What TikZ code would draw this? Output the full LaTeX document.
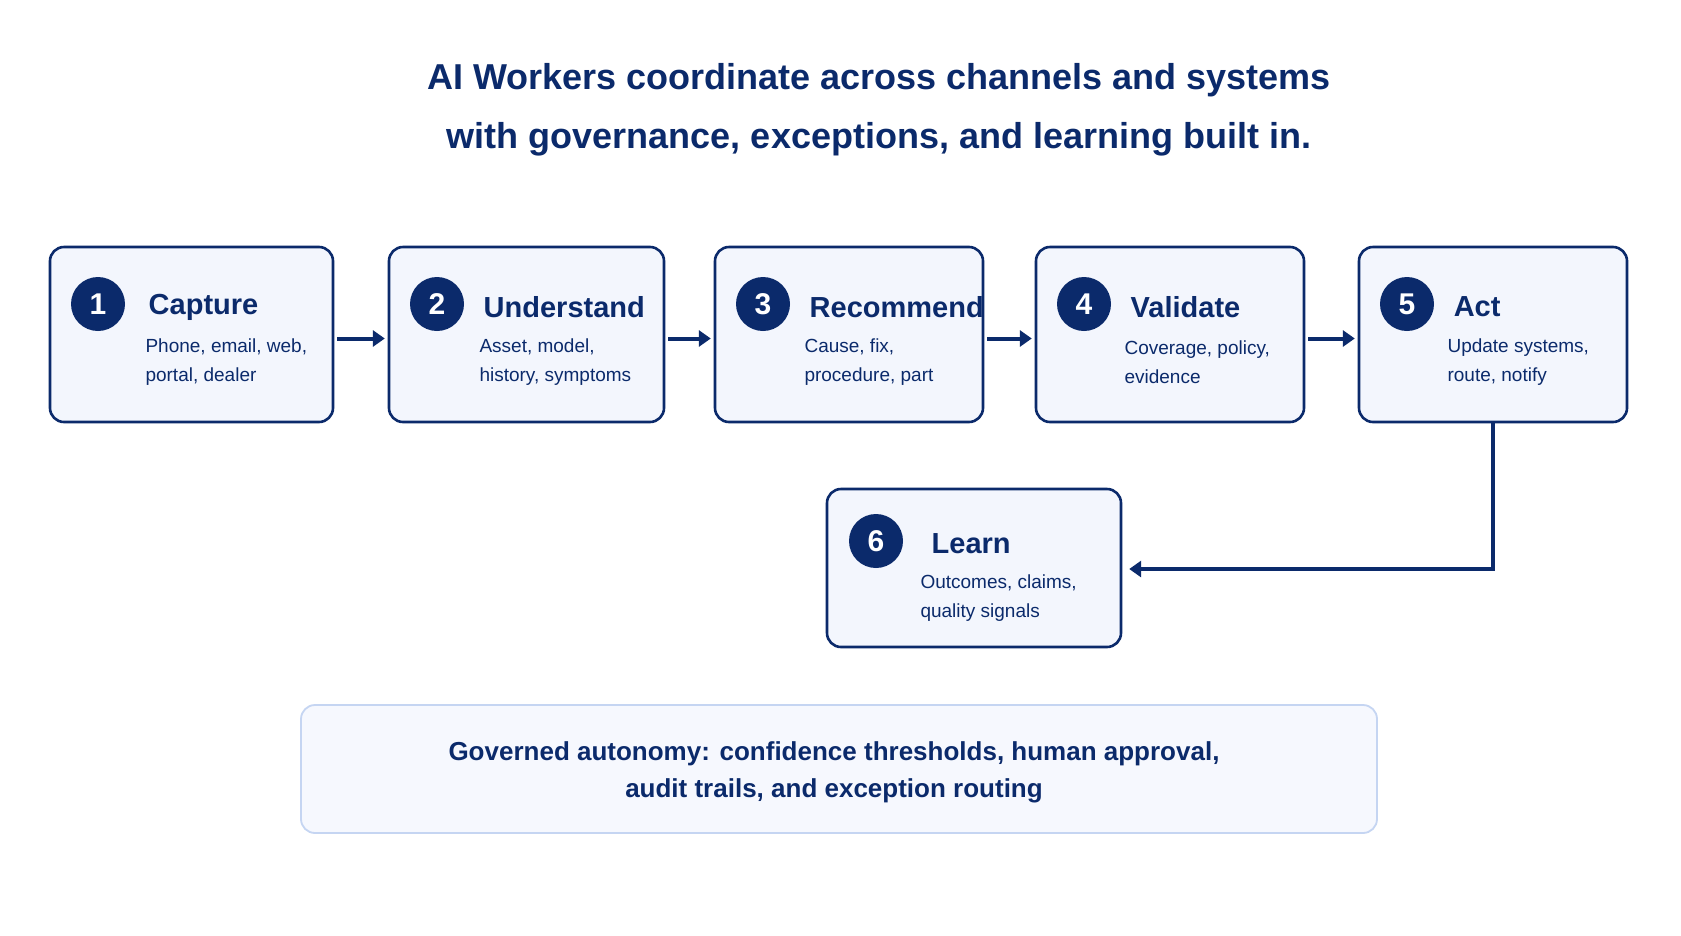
\documentclass[tikz,border=0pt]{standalone}
\usepackage{fontspec}
\setmainfont{Liberation Sans}
\usetikzlibrary{arrows.meta}
\definecolor{navy}{HTML}{0B2A6B}
\definecolor{boxfill}{HTML}{F3F6FD}
\definecolor{lightb}{HTML}{C5D5F2}
\definecolor{lightfill}{HTML}{F6F8FE}
\begin{document}
\begin{tikzpicture}[x=1pt,y=-1pt,
  stepbox/.style={draw=navy,line width=2.6pt,fill=boxfill,rounded corners=14pt},
  num/.style={circle,fill=navy,text=white,minimum size=54pt,inner sep=0pt,font=\fontsize{30}{30}\selectfont\bfseries},
  ttl/.style={anchor=west,text=navy,font=\fontsize{29}{29}\selectfont\bfseries},
  sub/.style={anchor=west,text=navy,align=left,font=\fontsize{19}{29}\selectfont},
  arr/.style={draw=navy,line width=4pt,-{Triangle[length=12pt,width=16pt]}}]
\useasboundingbox[fill=white] (0,0) rectangle (1681,935);
\node[text=navy,align=center,font=\fontsize{36}{59}\selectfont\bfseries] (title) at (879,110) {AI Workers coordinate across channels and systems\\with governance, exceptions, and learning built in.};
% boxes
\foreach \i/\xa/\xb in {1/50/333,2/389/664,3/715/983,4/1036/1304,5/1359/1627}{
  \path[stepbox] (\xa,247) rectangle (\xb,422);
  \node (b\i) at ({(\xa+\xb)/2},334.5) [minimum width={\xb-\xa},minimum height=175pt] {};
  \node[num] (n\i) at (\xa+48,304) {\i};
}
\path[stepbox] (827,489) rectangle (1121,647);
\node (b6) at (974,568) [minimum width=294pt,minimum height=158pt] {};
\node[num] (n6) at (876,541) {6};
\node[ttl] (t1) at (n1.east) [xshift=20pt,yshift=-3pt] {Capture};
\node[ttl] (t2) at (n2.east) [xshift=16pt,yshift=-3pt] {Understand};
\node[ttl] (t3) at (n3.east) [xshift=16pt,yshift=-3pt] {Recommend};
\node[ttl] (t4) at (n4.east) [xshift=16pt,yshift=-3pt] {Validate};
\node[ttl] (t5) at (n5.east) [xshift=16pt,yshift=-3pt] {Act};
\node[ttl] (t6) at (n6.east) [xshift=25pt,yshift=-3pt] {Learn};
\node[sub] (s1) at (142,362) {Phone, email, web,\\portal, dealer};
\node[sub] (s2) at (476,362) {Asset, model,\\history, symptoms};
\node[sub] (s3) at (801,362) {Cause, fix,\\procedure, part};
\node[sub] (s4) at (1121,362) {Coverage, policy,\\evidence};
\node[sub] (s5) at (1444,362) {Update systems,\\route, notify};
\node[sub] (s6) at (917,598) {Outcomes, claims,\\quality signals};
% arrows
\draw[arr] ([xshift=4pt,yshift=-4pt]b1.east) -- ([xshift=-4pt,yshift=-4pt]b2.west);
\draw[arr] ([xshift=4pt,yshift=-4pt]b2.east) -- ([xshift=-4pt,yshift=-4pt]b3.west);
\draw[arr] ([xshift=4pt,yshift=-4pt]b3.east) -- ([xshift=-4pt,yshift=-4pt]b4.west);
\draw[arr] ([xshift=4pt,yshift=-4pt]b4.east) -- ([xshift=-4pt,yshift=-4pt]b5.west);
\draw[arr,line width=3.2pt] (b5.south) |- ([xshift=8pt]b6.east |- 0,569);
% bottom
\path[draw=lightb,line width=1.8pt,fill=lightfill,rounded corners=14pt] (301,705) rectangle (1377,833);
\node[text=navy,align=center,font=\fontsize{26}{37}\selectfont\bfseries] (gov) at (834,772) {Governed autonomy: confidence thresholds, human approval,\\audit trails, and exception routing};
\end{tikzpicture}
\end{document}
